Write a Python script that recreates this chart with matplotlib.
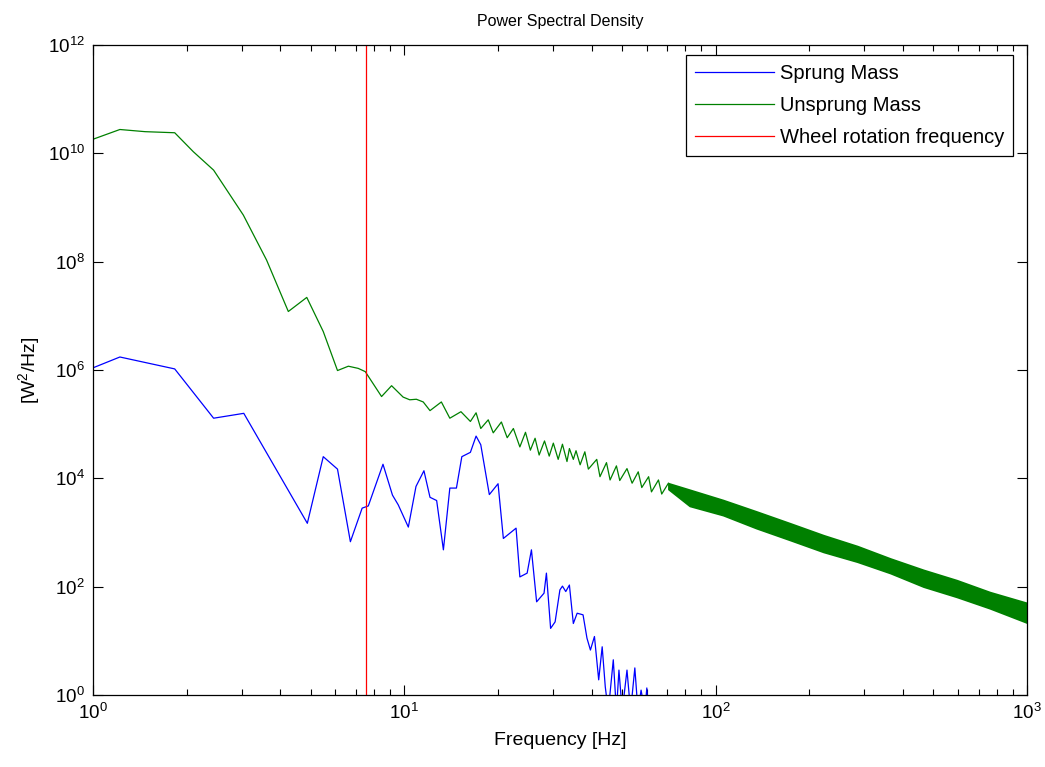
"""
Power Spectral Density: sprung vs unsprung mass, log-log.
Values read off the reference picture.
"""
import numpy as np
import matplotlib
matplotlib.use('Agg')
import matplotlib.pyplot as plt
from matplotlib.ticker import LogLocator, NullLocator, LogFormatterSciNotation

plt.rcParams['font.family'] = ['Liberation Sans', 'DejaVu Sans']
plt.rcParams['mathtext.fontset'] = 'custom'
plt.rcParams['mathtext.rm'] = 'Liberation Sans'
plt.rcParams['mathtext.it'] = 'Liberation Sans:italic'
plt.rcParams['mathtext.bf'] = 'Liberation Sans:bold'

# ── data (frequency in Hz, PSD as log10 exponent) ───────────────────
SPRUNG_F = [1.00, 1.22, 1.83, 2.44, 3.05, 4.88, 5.49, 6.10, 6.71, 7.32,
            7.66, 8.54, 9.16, 9.56, 10.30, 10.90, 11.56, 12.09, 12.70,
            13.35, 14.00, 14.70, 15.30, 16.30, 17.00, 17.60, 18.75, 20.00,
            20.80, 22.85, 23.50, 24.80, 25.60, 26.60, 28.10, 28.60, 29.50,
            30.50, 31.60, 32.20, 33.00, 33.90, 34.90, 35.90, 37.50, 38.60,
            39.60, 40.80, 42.10, 43.20, 44.20, 45.20, 46.90, 48.00, 48.90,
            50.10, 51.90, 53.30, 55.00, 56.30, 57.60, 59.20, 60.10, 60.90]
SPRUNG_LOG10 = [6.04, 6.24, 6.02, 5.11, 5.20, 3.17, 4.40, 4.17, 2.83, 3.45,
                3.49, 4.26, 3.69, 3.51, 3.10, 3.85, 4.14, 3.65, 3.59,
                2.68, 3.82, 3.82, 4.40, 4.48, 4.78, 4.62, 3.70, 3.90,
                2.89, 3.08, 2.18, 2.25, 2.68, 1.72, 1.88, 2.25, 1.23,
                1.35, 1.94, 2.01, 1.91, 2.03, 1.32, 1.51, 1.48, 1.05,
                0.83, 1.08, 0.28, 0.89, 0.15, -0.30, 0.65, -0.30, 0.46,
                -0.30, 0.46, -0.30, 0.50, -0.30, 0.09, -0.30, 0.13, -0.50]

UNSPRUNG_F = [1.00, 1.22, 1.47, 1.83, 2.10, 2.44, 3.04, 3.61, 4.24, 4.86,
              5.49, 6.10, 6.61, 7.11, 7.49, 8.45, 9.10, 9.91, 10.41, 10.93,
              11.50, 12.09, 13.15, 14.00, 15.20, 16.30, 17.00, 17.60, 18.60,
              19.30, 20.50, 21.40, 22.40, 23.50, 24.50, 25.40, 26.30, 27.10,
              28.20, 29.20, 30.10, 31.20, 32.20, 33.30, 33.90, 34.90, 35.60,
              36.70, 38.00, 39.00, 41.50, 42.50, 44.60, 45.80, 48.00, 49.20,
              51.90, 53.90, 56.40, 57.90, 60.90, 62.20, 65.50, 67.10, 70.50]
UNSPRUNG_LOG10 = [10.26, 10.44, 10.40, 10.38, 10.03, 9.69, 8.86, 8.03, 7.08,
                  7.34, 6.71, 5.99, 6.07, 6.03, 5.97, 5.51, 5.71, 5.50, 5.45,
                  5.46, 5.41, 5.25, 5.41, 5.11, 5.23, 5.05, 5.21, 4.92, 5.08,
                  4.84, 5.04, 4.75, 4.92, 4.58, 4.85, 4.52, 4.74, 4.43,
                  4.69, 4.41, 4.65, 4.35, 4.63, 4.31, 4.55, 4.35, 4.51,
                  4.25, 4.49, 4.17, 4.35, 4.03, 4.29, 3.97, 4.23, 3.96,
                  4.18, 3.91, 4.12, 3.83, 4.03, 3.75, 3.97, 3.71, 3.91]

# dense high-frequency ripple of the unsprung curve: upper/lower envelope
BAND_F = [70.5, 82.5, 105.6, 135.0, 173.5, 222.0, 285.0, 364.0, 465.0,
          595.0, 760.0, 1000.0]
BAND_TOP_LOG10 = [3.91, 3.79, 3.60, 3.39, 3.17, 2.95, 2.75, 2.52, 2.31,
                  2.12, 1.90, 1.70]
BAND_BOT_LOG10 = [3.80, 3.49, 3.32, 3.08, 2.86, 2.64, 2.46, 2.25, 2.00,
                  1.81, 1.60, 1.335]

WHEEL_FREQ = 7.53

BLUE = (0.0, 0.0, 1.0)
GREEN = (0.0, 0.5, 0.0)
RED = (1.0, 0.0, 0.0)
LW = 0.9


def main():
    fig = plt.figure(figsize=(10.45, 7.67), dpi=100)
    ax = fig.add_axes([93 / 1045, 1 - 695 / 767, 934 / 1045, 650 / 767])

    ax.plot(SPRUNG_F, 10.0 ** np.array(SPRUNG_LOG10), color=BLUE,
            lw=LW, label='Sprung Mass')
    ax.plot(UNSPRUNG_F, 10.0 ** np.array(UNSPRUNG_LOG10), color=GREEN,
            lw=LW, label='Unsprung Mass')
    ax.fill_between(BAND_F, 10.0 ** np.array(BAND_BOT_LOG10),
                    10.0 ** np.array(BAND_TOP_LOG10),
                    color=GREEN, lw=1.2, edgecolor=GREEN)
    ax.axvline(WHEEL_FREQ, color=RED, lw=LW,
               label='Wheel rotation frequency')

    ax.set_xscale('log')
    ax.set_yscale('log')
    ax.set_xlim(1, 1000)
    ax.set_ylim(1, 1e12)

    ax.yaxis.set_major_formatter(LogFormatterSciNotation())
    ax.set_yticks([10.0 ** k for k in range(0, 13, 2)])
    ax.yaxis.set_minor_locator(NullLocator())
    ax.xaxis.set_minor_locator(LogLocator(base=10, subs=np.arange(2, 10),
                                          numticks=20))

    ax.tick_params(which='both', direction='in', top=True, right=True,
                   labelsize=13.5, width=0.8, colors='black')
    ax.tick_params(which='major', length=7, pad=6)
    ax.tick_params(which='minor', length=4)
    for sp in ax.spines.values():
        sp.set_linewidth(0.9)

    ax.set_title('Power Spectral Density', fontsize=11.5, pad=14)
    ax.set_xlabel('Frequency [Hz]', fontsize=14, labelpad=6)
    ax.set_ylabel('[W$^2$/Hz]', fontsize=14, labelpad=4)

    leg = ax.legend(loc='upper right',
                    bbox_to_anchor=(1 - 14 / 934, 1 - 10 / 650),
                    borderaxespad=0, fancybox=False, framealpha=1,
                    edgecolor='black', fontsize=14.5, handlelength=3.9,
                    handletextpad=0.3, labelspacing=0.65, borderpad=0.45)
    leg.get_frame().set_linewidth(0.9)

    fig.savefig('out.png', dpi=100)
    plt.close(fig)


if __name__ == '__main__':
    main()
